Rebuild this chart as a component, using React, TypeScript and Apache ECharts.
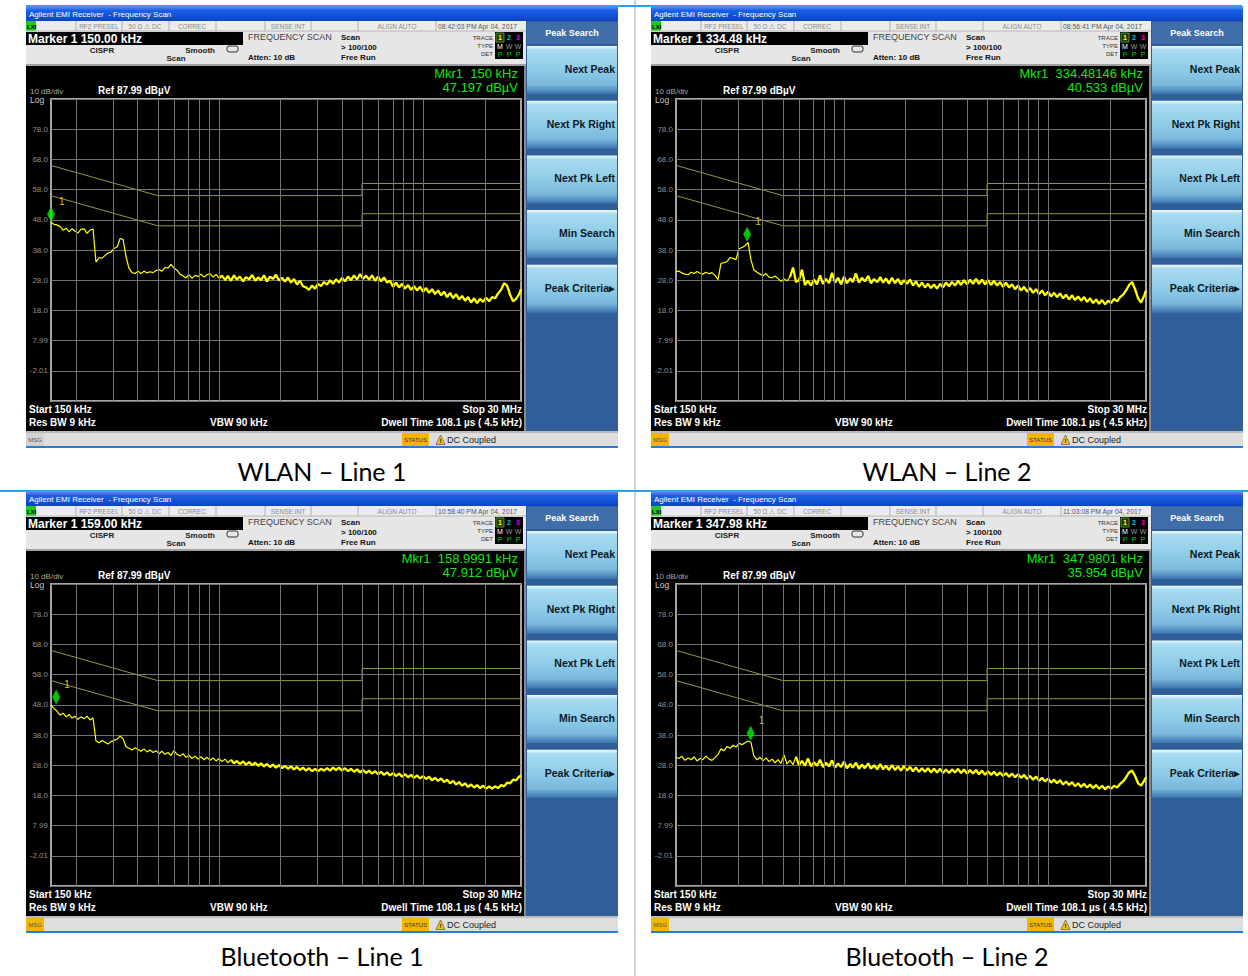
import React, { useEffect, useRef } from "react";
import * as echarts from "echarts";

// ---------- data ----------
const FREQ_KHZ = [
  150, 155, 160, 166, 172, 178, 184, 190, 197, 203, 210, 218, 225, 233, 241, 249, 258, 267, 276, 285,
  295, 305, 316, 327, 338, 349, 361, 374, 387, 400, 414, 428, 443, 458, 474, 490, 507, 524, 542, 561,
  580, 600, 621, 642, 664, 687, 711, 735, 761, 787, 814, 842, 871, 901, 932, 964, 997, 1030, 1070, 1100,
  1140, 1180, 1220, 1260, 1310, 1350, 1400, 1450, 1500, 1550, 1600, 1655, 1712, 1771, 1832, 1895, 1960, 2028, 2097, 2170,
  2244, 2321, 2401, 2484, 2569, 2658, 2749, 2844, 2942, 3043, 3148, 3256, 3368, 3484, 3604, 3728, 3856, 3989, 4126, 4268,
  4415, 4567, 4724, 4887, 5055, 5229, 5409, 5595, 5788, 5987, 6193, 6406, 6627, 6855, 7091, 7335, 7587, 7848, 8118, 8398,
  8687, 8986, 9295, 9615, 9946, 10288, 10642, 11008, 11387, 11779, 12184, 12603, 13037, 13486, 13950, 14430, 14926, 15440, 15971, 16521,
  17089, 17677, 18285, 18914, 19565, 20238, 20935, 21655, 22400, 23171, 23968, 24793, 25646, 26528, 27441, 28385, 29362, 30000,
];

const TRACE_WLAN_L1 = [
  47.2, 46.5, 46.3, 45.8, 44.5, 45.2, 44.0, 45.0, 44.2, 43.6, 44.8, 45.0, 43.5, 44.6, 44.9, 34.0, 35.5, 35.3, 36.2, 37.0,
  37.3, 38.5, 39.0, 41.8, 41.5, 36.0, 32.0, 30.5, 30.2, 31.0, 30.2, 31.0, 30.4, 30.8, 30.5, 31.2, 31.5, 31.0, 32.2, 32.0,
  33.2, 32.0, 31.3, 30.0, 29.4, 28.8, 29.8, 28.6, 29.6, 29.2, 30.0, 29.0, 29.8, 30.2, 29.0, 29.9, 28.7, 29.5, 28.0, 29.4,
  27.8, 29.6, 28.2, 29.2, 27.6, 29.0, 28.3, 29.7, 27.8, 28.9, 28.0, 29.6, 27.6, 29.2, 28.4, 29.8, 27.9, 28.8, 27.5, 28.9,
  27.2, 28.4, 26.6, 27.8, 26.0, 25.6, 24.8, 26.2, 25.2, 26.8, 26.0, 27.4, 26.5, 28.0, 26.8, 28.3, 27.2, 28.8, 27.6, 29.2,
  28.0, 29.6, 28.2, 30.0, 28.4, 29.5, 28.2, 29.6, 27.8, 29.2, 27.6, 28.9, 27.2, 27.8, 25.8, 27.2, 25.6, 26.8, 25.2, 26.4,
  24.8, 26.0, 24.6, 25.8, 24.2, 25.4, 23.8, 25.0, 23.4, 24.6, 23.0, 24.2, 22.4, 23.8, 22.0, 23.4, 21.6, 22.8, 21.2, 22.4,
  20.6, 22.0, 20.4, 21.8, 20.8, 22.2, 21.0, 22.4, 22.0, 23.6, 24.8, 27.0, 26.2, 23.2, 21.0, 21.8, 23.4, 25.0,
];

const TRACE_WLAN_L2 = [
  30.8, 31.0, 30.4, 30.0, 29.8, 30.6, 30.2, 30.9, 30.3, 30.0, 30.6, 30.1, 30.5, 29.6, 28.2, 33.6, 33.8, 34.2, 35.5, 35.2,
  34.8, 38.4, 38.8, 39.4, 40.5, 34.8, 31.4, 30.6, 30.0, 29.5, 30.2, 29.0, 28.8, 29.4, 28.5, 27.6, 28.4, 27.8, 29.0, 32.2,
  27.4, 28.0, 31.5, 26.4, 27.8, 26.2, 28.2, 26.6, 29.6, 26.8, 28.4, 27.0, 30.4, 27.2, 28.8, 26.6, 29.2, 27.0, 28.6, 27.4,
  30.2, 27.2, 28.8, 27.6, 29.4, 27.0, 28.4, 27.3, 29.0, 27.2, 28.6, 26.8, 28.8, 27.0, 28.4, 26.6, 28.0, 26.8, 28.2, 26.2,
  27.6, 25.8, 27.2, 25.6, 26.8, 25.4, 26.6, 25.2, 26.8, 25.6, 27.2, 26.0, 27.4, 26.2, 27.8, 26.4, 28.0, 26.6, 28.2, 26.8,
  28.4, 26.8, 28.2, 26.6, 28.0, 26.4, 27.8, 26.2, 27.4, 25.8, 27.2, 25.6, 26.6, 25.0, 26.2, 24.6, 25.8, 24.2, 25.4, 23.8,
  25.0, 23.4, 24.6, 23.0, 24.2, 22.6, 23.8, 22.4, 23.6, 22.0, 23.2, 21.6, 23.0, 21.4, 22.6, 21.2, 22.4, 20.8, 22.0, 20.4,
  21.6, 20.2, 21.4, 20.0, 21.2, 20.4, 21.8, 21.0, 22.4, 23.2, 24.6, 26.4, 27.4, 25.0, 22.0, 20.6, 22.8, 24.6,
];

const TRACE_BT_L1 = [
  47.9, 46.8, 46.0, 44.6, 45.2, 44.0, 44.8, 43.6, 44.2, 43.2, 44.0, 43.4, 44.2, 43.0, 43.6, 36.0, 35.4, 36.2, 35.6, 35.0,
  35.8, 36.2, 36.6, 37.6, 36.8, 34.2, 33.6, 33.0, 33.8, 33.2, 32.6, 33.4, 32.4, 33.0, 32.2, 32.8, 31.8, 32.6, 31.6, 32.2,
  31.2, 32.8, 31.6, 31.0, 31.8, 30.6, 31.2, 30.2, 31.0, 30.0, 30.8, 29.8, 30.6, 29.6, 30.4, 29.4, 30.2, 29.2, 30.0, 28.8,
  29.8, 28.6, 29.4, 28.4, 29.2, 28.2, 29.0, 28.0, 28.8, 27.8, 28.6, 27.6, 28.4, 27.4, 28.2, 27.2, 28.0, 27.0, 27.8, 26.8,
  27.6, 26.6, 27.4, 26.4, 27.2, 26.2, 27.0, 26.0, 26.8, 26.0, 26.8, 26.2, 27.0, 26.2, 27.2, 26.4, 27.2, 26.2, 27.0, 26.0,
  26.8, 25.8, 26.6, 25.6, 26.4, 25.4, 26.2, 25.2, 26.0, 25.0, 25.8, 24.8, 25.6, 24.6, 25.4, 24.4, 25.2, 24.2, 25.0, 24.0,
  24.8, 23.8, 24.6, 23.6, 24.4, 23.4, 24.2, 23.0, 23.8, 22.8, 23.6, 22.4, 23.2, 22.0, 22.8, 21.6, 22.4, 21.2, 22.0, 20.8,
  21.6, 20.6, 21.4, 20.4, 21.2, 20.2, 21.0, 20.2, 21.0, 20.4, 21.4, 21.0, 22.2, 22.0, 23.2, 23.0, 24.2, 24.6,
];

const TRACE_BT_L2 = [
  30.6, 30.2, 31.0, 29.6, 30.4, 29.8, 30.8, 29.4, 30.2, 29.8, 31.0, 30.0, 29.6, 30.6, 31.6, 33.4, 32.8, 34.2, 33.6, 34.6,
  34.0, 35.2, 34.8, 35.4, 36.0, 35.6, 31.0, 29.8, 30.6, 29.4, 30.4, 29.2, 30.0, 28.8, 29.8, 28.6, 31.4, 28.4, 29.6, 28.2,
  30.8, 28.0, 29.4, 27.8, 30.2, 27.6, 29.0, 27.8, 29.8, 27.4, 28.8, 27.6, 29.6, 27.2, 28.6, 27.4, 29.2, 27.0, 28.4, 27.2,
  28.8, 26.8, 28.2, 27.0, 28.6, 26.8, 28.0, 26.6, 28.4, 26.6, 27.8, 26.4, 28.0, 26.4, 27.6, 26.2, 27.8, 26.2, 27.4, 26.0,
  27.2, 25.8, 27.0, 25.8, 27.0, 25.6, 26.8, 25.6, 26.8, 25.4, 26.6, 25.4, 26.6, 25.6, 26.8, 25.4, 26.6, 25.2, 26.4, 25.2,
  26.4, 25.0, 26.2, 24.8, 26.0, 24.8, 25.8, 24.6, 25.6, 24.4, 25.4, 24.2, 25.2, 24.0, 25.0, 23.8, 24.8, 23.4, 24.4, 23.2,
  24.2, 22.8, 23.8, 22.6, 23.6, 22.2, 23.2, 22.0, 23.0, 21.6, 22.6, 21.4, 22.4, 21.0, 22.0, 20.8, 21.8, 20.6, 21.6, 20.4,
  21.4, 20.2, 21.2, 20.0, 21.0, 20.2, 21.2, 20.6, 21.8, 22.6, 24.0, 25.6, 26.2, 24.4, 22.0, 21.2, 22.8, 24.0,
];

const LIMIT_KHZ = [150, 500, 5000, 5000, 30000];
const QP_LIMIT_DB = [66, 56, 56, 60, 60];
const AV_LIMIT_DB = [56, 46, 46, 50, 50];
const GRID_KHZ = [200, 300, 400, 500, 600, 700, 800, 900, 1000, 2000, 3000, 4000, 5000, 6000, 7000, 8000, 9000, 10000, 20000];

const MARKER_KHZ = [150, 334.48146, 158.9991, 347.9801];
const MARKER_DB = [47.197, 40.533, 47.912, 35.954];
const MARKER_READOUT = ["Marker 1 150.00 kHz", "Marker 1 334.48 kHz", "Marker 1 159.00 kHz", "Marker 1 347.98 kHz"];
const MKR_FREQ_TEXT = ["Mkr1  150 kHz", "Mkr1  334.48146 kHz", "Mkr1  158.9991 kHz", "Mkr1  347.9801 kHz"];
const MKR_AMP_TEXT = ["47.197 dBµV", "40.533 dBµV", "47.912 dBµV", "35.954 dBµV"];
const TIMESTAMPS = ["08:42:03 PM Apr 04, 2017", "08:56:41 PM Apr 04, 2017", "10:58:40 PM Apr 04, 2017", "11:03:08 PM Apr 04, 2017"];
const CAPTIONS = ["WLAN – Line 1", "WLAN – Line 2", "Bluetooth – Line 1", "Bluetooth – Line 2"];
const MSG_HIGHLIGHT = [false, true, true, true];
const SOFTKEYS = ["Next Peak", "Next Pk Right", "Next Pk Left", "Min Search", "Peak Criteria▸"];
const STATUS_CELLS = ["RF2 PRESEL", "50 Ω ⚠ DC", "CORREC", "", "SENSE:INT", "", "ALIGN AUTO"];
// index from which each trace is drawn as the dense (thicker) noise band
const NOISE_START = [56, 38, 60, 40];
const REF_LEVEL = 87.99;
const DB_PER_DIV = 10;

const TRACES = [TRACE_WLAN_L1, TRACE_WLAN_L2, TRACE_BT_L1, TRACE_BT_L2];
const ORIGINS = [[26, 6], [651, 6], [26, 491], [651, 491]];

// axis runs 0..100 (10 divisions) ; shift values so the top is the reference level
const OFFSET = DB_PER_DIV * 10 - REF_LEVEL;
const FONT = "Liberation Sans";

function buildPanelGraphics(i: number): any[] {
  const [ox, oy] = ORIGINS[i];
  const els: any[] = [];
  const rect = (x: number, y: number, w: number, h: number, fill: any, extra: any = {}, z = -2) =>
    els.push({ type: "rect", z, silent: true, shape: { x: ox + x, y: oy + y, width: w, height: h }, style: { fill, ...extra } });
  const text = (x: number, y: number, t: string, font: string, fill: string, align = "left", z = 5) =>
    els.push({
      type: "text", z, silent: true, x: ox + x, y: oy + y,
      style: { text: t, font, fill, align, verticalAlign: "middle", textAlign: align, textVerticalAlign: "middle" },
    });
  const line = (x1: number, y1: number, x2: number, y2: number, stroke: string, w = 1, z = -1) =>
    els.push({ type: "line", z, silent: true, shape: { x1: ox + x1, y1: oy + y1, x2: ox + x2, y2: oy + y2 }, style: { stroke, lineWidth: w } });

  // title bar
  rect(0, 0, 592, 15, new echarts.graphic.LinearGradient(0, 0, 0, 1, [
    { offset: 0, color: "#5a9af2" }, { offset: 0.3, color: "#1c5fe6" }, { offset: 1, color: "#0a44c4" },
  ]));
  text(3, 8, "Agilent EMI Receiver  - Frequency Scan", `8px ${FONT}`, "#ffffff");

  // header area
  rect(0, 15, 500, 45, "#e6e6e6");
  rect(0, 15, 500, 10, "#ececec");
  line(0, 25, 500, 25, "#b8b8b8");
  rect(0, 15, 10, 10, "#22c822");
  text(1, 20.5, "LXI", `bold 6px ${FONT}`, "#000");
  const seps = [50, 96, 143, 190, 239, 285, 332, 410];
  seps.forEach((s) => line(s, 15, s, 25, "#b0b0b0"));
  const cellCenters = [73, 119, 166, 214, 262, 308, 371];
  STATUS_CELLS.forEach((c, k) => { if (c) text(cellCenters[k], 20.5, c, `6.5px ${FONT}`, "#8a8a8a", "center"); });
  text(412, 20.5, TIMESTAMPS[i], `6.8px ${FONT}`, "#555", "left");

  rect(0, 26, 217, 13, "#000");
  text(2, 32.5, MARKER_READOUT[i], `bold 12px ${FONT}`, "#ffffff");
  text(222, 31, "FREQUENCY SCAN", `9px ${FONT}`, "#444");
  text(222, 51, "Atten: 10 dB", `bold 8px ${FONT}`, "#111");
  text(76, 44, "CISPR", `bold 8px ${FONT}`, "#222", "center");
  text(189, 44, "Smooth", `bold 8px ${FONT}`, "#222", "right");
  text(150, 52.5, "Scan", `bold 8px ${FONT}`, "#222", "center");
  els.push({ type: "rect", z: 5, silent: true, shape: { x: ox + 201, y: oy + 40, width: 11, height: 6, r: 2 }, style: { fill: "none", stroke: "#333", lineWidth: 1 } });
  text(315, 31, "Scan", `bold 8px ${FONT}`, "#111");
  text(315, 41, "> 100/100", `bold 8px ${FONT}`, "#111");
  text(315, 51, "Free Run", `bold 8px ${FONT}`, "#111");
  text(467, 32, "TRACE", `6px ${FONT}`, "#333", "right");
  text(467, 40, "TYPE", `6px ${FONT}`, "#333", "right");
  text(467, 48, "DET", `6px ${FONT}`, "#333", "right");
  rect(469, 26, 28, 27, "#000", {}, 1);
  els.push({ type: "rect", z: 4, silent: true, shape: { x: ox + 470, y: oy + 27, width: 8, height: 9 }, style: { fill: "#303000", stroke: "#3a9a3a", lineWidth: 1 } });
  text(474, 31.5, "1", `bold 7px ${FONT}`, "#ffff00", "center");
  text(483, 31.5, "2", `bold 7px ${FONT}`, "#00c8e0", "center");
  text(492, 31.5, "3", `bold 7px ${FONT}`, "#e000e0", "center");
  text(474, 40, "M", `7px ${FONT}`, "#ffffff", "center");
  text(483, 40, "W", `7px ${FONT}`, "#9a9a9a", "center");
  text(492, 40, "W", `7px ${FONT}`, "#9a9a9a", "center");
  text(474, 48, "P", `7px ${FONT}`, "#00d000", "center");
  text(483, 48, "P", `7px ${FONT}`, "#00d000", "center");
  text(492, 48, "P", `7px ${FONT}`, "#00d000", "center");
  line(0, 59, 500, 59, "#a0a0a0", 2);

  // black display area
  rect(0, 60, 498, 365, "#000");
  line(499, 60, 499, 425, "#8a8a8a", 2);
  text(492, 67.5, MKR_FREQ_TEXT[i], `13px ${FONT}`, "#14e614", "right");
  text(492, 81, MKR_AMP_TEXT[i], `13px ${FONT}`, "#14e614", "right");
  text(4, 85, "10 dB/div", `8px ${FONT}`, "#a8a8a8");
  text(4, 94, "Log", `8.5px ${FONT}`, "#c8c8c8");
  text(72, 84.5, "Ref 87.99 dBµV", `bold 10px ${FONT}`, "#ffffff");
  text(3, 403, "Start 150 kHz", `bold 10px ${FONT}`, "#ffffff");
  text(496, 403, "Stop 30 MHz", `bold 10px ${FONT}`, "#ffffff", "right");
  text(3, 416, "Res BW 9 kHz", `bold 10px ${FONT}`, "#ffffff");
  text(184, 416, "VBW 90 kHz", `bold 10px ${FONT}`, "#ffffff");
  text(496, 416, "Dwell Time 108.1 µs ( 4.5 kHz)", `bold 10px ${FONT}`, "#ffffff", "right");

  // message / status bar
  rect(0, 425, 592, 15, "#dedede");
  line(0, 426, 592, 426, "#9a9a9a");
  rect(0, 427, 18, 13, MSG_HIGHLIGHT[i] ? "#f2b600" : "#d2d2d2", {}, -1);
  text(9, 433.5, "MSG", `6px ${FONT}`, "#555", "center");
  rect(376, 427, 27, 13, "#f2b600", {}, -1);
  text(389.5, 433.5, "STATUS", `6px ${FONT}`, "#333", "center");
  els.push({ type: "polygon", z: 4, silent: true, shape: { points: [[ox + 410, oy + 438.5], [ox + 414.5, oy + 429], [ox + 419, oy + 438.5]] }, style: { fill: "#f4c400", stroke: "#444", lineWidth: 0.6 } });
  text(414.5, 435, "!", `bold 6px ${FONT}`, "#000", "center", 6);
  text(421, 433.5, "DC Coupled", `9px ${FONT}`, "#222");
  rect(0, 440, 592, 2, "#2b7ad6");

  // softkeys
  rect(500, 15, 92, 410, "#2f5e98");
  rect(501, 16, 90, 22, "#3f6ea8", {}, -1);
  text(546, 27, "Peak Search", `bold 9px ${FONT}`, "#ffffff", "center");
  SOFTKEYS.forEach((k, j) => {
    const top = 40 + j * 54.7;
    rect(501, top, 90, 48, new echarts.graphic.LinearGradient(0, 0, 0, 1, [
      { offset: 0, color: "#f2fbff" }, { offset: 0.08, color: "#a8dcf1" }, { offset: 0.5, color: "#8ecbe7" },
      { offset: 0.8, color: "#7ab9dd" }, { offset: 1, color: "#3a74ae" },
    ]), {}, -1);
    text(589, top + 23, k, `bold 10.5px ${FONT}`, "#0c1826", "right");
  });

  // caption
  text(296, 465, CAPTIONS[i], `25px Lato`, "#000000", "center");
  return els;
}

function buildOption(): any {
  const grids: any[] = [];
  const xAxes: any[] = [];
  const yAxes: any[] = [];
  const series: any[] = [];
  const elements: any[] = [];

  elements.push({ type: "rect", z: -5, silent: true, shape: { x: 0, y: 0, width: 1248, height: 976 }, style: { fill: "#ffffff" } });
  elements.push({ type: "line", z: -4, silent: true, shape: { x1: 635, y1: 0, x2: 635, y2: 976 }, style: { stroke: "#d2d2d2", lineWidth: 2 } });
  elements.push({ type: "line", z: -4, silent: true, shape: { x1: 0, y1: 491, x2: 1248, y2: 491 }, style: { stroke: "#2aa0f0", lineWidth: 2 } });
  elements.push({ type: "line", z: -4, silent: true, shape: { x1: 26, y1: 6, x2: 1242, y2: 6 }, style: { stroke: "#2aa0f0", lineWidth: 2 } });

  ORIGINS.forEach(([ox, oy], i) => {
    elements.push(...buildPanelGraphics(i));
    grids.push({
      left: ox + 25, top: oy + 93, width: 470, height: 302,
      show: true, borderColor: "#a6a6a6", borderWidth: 2, backgroundColor: "transparent", containLabel: false,
    });
    xAxes.push({
      type: "value", gridIndex: i, min: Math.log10(150), max: Math.log10(30000),
      axisLine: { show: false }, axisTick: { show: false }, axisLabel: { show: false }, splitLine: { show: false },
    });
    yAxes.push({
      type: "value", gridIndex: i, min: 0, max: 100, interval: DB_PER_DIV,
      axisLine: { show: false }, axisTick: { show: false },
      splitLine: { lineStyle: { color: "#747474", width: 1 } },
      axisLabel: {
        color: "#8e8e8e", fontSize: 8, fontFamily: FONT, margin: 3,
        formatter: (v: number) => (v <= 0 || v >= 100 ? "" : (v - OFFSET).toPrecision(3)),
      },
    });
    series.push({
      type: "line", xAxisIndex: i, yAxisIndex: i, data: [], silent: true, z: 1,
      markLine: {
        silent: true, symbol: ["none", "none"], label: { show: false }, animation: false,
        lineStyle: { color: "#747474", width: 1, type: "solid" },
        data: GRID_KHZ.map((f) => ({ xAxis: Math.log10(f) })),
      },
    });
    [QP_LIMIT_DB, AV_LIMIT_DB].forEach((lim) => {
      series.push({
        type: "line", xAxisIndex: i, yAxisIndex: i, silent: true, z: 2, symbol: "none",
        lineStyle: { color: "#96963e", width: 1 },
        data: LIMIT_KHZ.map((f, k) => [Math.log10(f), lim[k] + OFFSET]),
      });
    });
    const pts = FREQ_KHZ.map((f, k) => [Math.log10(f), TRACES[i][k] + OFFSET]);
    const cut = NOISE_START[i];
    series.push({
      type: "line", xAxisIndex: i, yAxisIndex: i, silent: true, z: 3, symbol: "none",
      lineStyle: { color: "#ffff00", width: 1.2 },
      data: pts.slice(0, cut + 1),
    });
    series.push({
      type: "line", xAxisIndex: i, yAxisIndex: i, silent: true, z: 3, symbol: "none",
      lineStyle: { color: "#ffff00", width: 2.3 },
      data: pts.slice(cut),
    });
    series.push({
      type: "scatter", xAxisIndex: i, yAxisIndex: i, silent: true, z: 4,
      symbol: "diamond", symbolSize: [8, 15], symbolOffset: [0, -8],
      itemStyle: { color: "#00f000" },
      label: { show: true, formatter: "1", position: "right", offset: [-1, -13], color: "#ffff00", fontSize: 10, fontFamily: FONT },
      data: [[Math.log10(MARKER_KHZ[i]), MARKER_DB[i] + OFFSET]],
    });
  });

  return {
    animation: false,
    backgroundColor: "#ffffff",
    textStyle: { fontFamily: FONT },
    grid: grids,
    xAxis: xAxes,
    yAxis: yAxes,
    series,
    graphic: { elements },
  };
}

export default function App() {
  const ref = useRef<HTMLDivElement>(null);
  useEffect(() => {
    document.body.style.margin = "0";
    if (!ref.current) return;
    const chart = echarts.init(ref.current, undefined, { renderer: "svg" });
    chart.setOption(buildOption());
    return () => chart.dispose();
  }, []);
  return <div ref={ref} style={{ width: 1248, height: 976 }} />;
}
